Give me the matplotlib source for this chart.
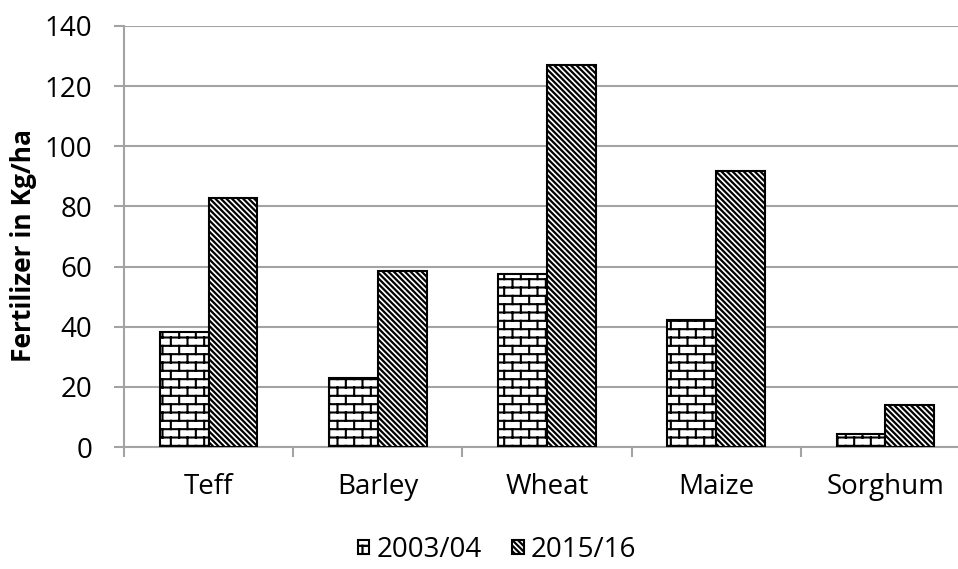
import numpy as np
import warnings
import matplotlib
matplotlib.use("Agg")
import matplotlib.pyplot as plt
from matplotlib import hatch as mhatch
from matplotlib.path import Path

warnings.filterwarnings("ignore")

# ---- data ----
categories = ["Teff", "Barley", "Wheat", "Maize", "Sorghum"]
series_names = ["2003/04", "2015/16"]
values_2003 = [38.3, 23.0, 57.5, 42.2, 4.2]
values_2015 = [82.8, 58.6, 127.0, 91.9, 13.9]
yticks = [0, 20, 40, 60, 80, 100, 120, 140]
ylabel = "Fertilizer in Kg/ha"


# ---- custom brick hatch ('b') ----
class BrickHatch(mhatch.HatchPatternBase):
    def __init__(self, hatch, density):
        n = hatch.count('b')
        self.rows = 12 * n
        self.cols = 6 * n
        if n == 0:
            self.num_vertices = 0
        else:
            self.num_vertices = self.rows * 2 + (self.rows + 1) * self.cols * 2

    def set_vertices_and_codes(self, vertices, codes):
        r, c = self.rows, self.cols
        k = 0
        for i in range(r):
            y = (i + 0.5) / r
            vertices[k] = (0.0, y); codes[k] = Path.MOVETO; k += 1
            vertices[k] = (1.0, y); codes[k] = Path.LINETO; k += 1
        for i in range(-1, r):
            y0 = (i + 0.5) / r
            y1 = (i + 1.5) / r
            off = 0.25 + 0.5 * (i % 2)
            for j in range(c):
                x = (j + off) / c
                vertices[k] = (x, y0); codes[k] = Path.MOVETO; k += 1
                vertices[k] = (x, y1); codes[k] = Path.LINETO; k += 1


mhatch._hatch_types.append(BrickHatch)

plt.rcParams['font.family'] = ['Open Sans', 'DejaVu Sans']
plt.rcParams['hatch.color'] = 'black'

W, H = 958, 569
fig = plt.figure(figsize=(W / 100, H / 100), dpi=100)
left, right, top, bottom = 124, 970, 26, 447
ax = fig.add_axes([left / W, 1 - bottom / H, (right - left) / W, (bottom - top) / H])

x = np.arange(len(categories))
bw = 0.288
grid_c = '#a3a3a3'
diag = '\\' * 6

plt.rcParams['hatch.linewidth'] = 1.5
b1 = ax.bar(x - bw / 2, values_2003, bw, facecolor='white', edgecolor='black',
            linewidth=1.5, hatch='b', label=series_names[0], zorder=3)
plt.rcParams['hatch.linewidth'] = 1.6
b2 = ax.bar(x + bw / 2, values_2015, bw, facecolor='white', edgecolor='black',
            linewidth=1.5, hatch=diag, label=series_names[1], zorder=3)
for p in b1:
    if hasattr(p, 'set_hatch_linewidth'):
        p.set_hatch_linewidth(1.5)
for p in b2:
    if hasattr(p, 'set_hatch_linewidth'):
        p.set_hatch_linewidth(1.6)

ax.set_xlim(-0.5, len(categories) - 0.5)
ax.set_ylim(0, 140)
ax.set_yticks(yticks)
ax.yaxis.grid(True, color=grid_c, linewidth=1.5, zorder=0)
ax.set_axisbelow(True)

ax.set_xticks(np.arange(-0.5, len(categories)), labels=[])
ax.set_xticks(x, labels=categories, minor=True)
ax.tick_params(axis='x', which='major', length=7, width=1.5, color=grid_c, direction='out')
ax.tick_params(axis='x', which='minor', length=0, pad=19, labelsize=20)
ax.tick_params(axis='y', length=7, width=1.5, color=grid_c, direction='out', pad=16, labelsize=20)

for s in ['top', 'right']:
    ax.spines[s].set_visible(False)
for s in ['left', 'bottom']:
    ax.spines[s].set_color(grid_c)
    ax.spines[s].set_linewidth(1.5)

fig.text(24 / W, 1 - 246 / H, ylabel, rotation=90, ha='center', va='center',
         fontsize=19, fontweight='bold')

leg = fig.legend(loc='center', bbox_to_anchor=(497 / W, 1 - 550 / H), ncol=2,
                 frameon=False, fontsize=20, handlelength=0.42, handleheight=0.42,
                 handletextpad=0.25, columnspacing=1.1)

fig.savefig('out.png', dpi=100)
